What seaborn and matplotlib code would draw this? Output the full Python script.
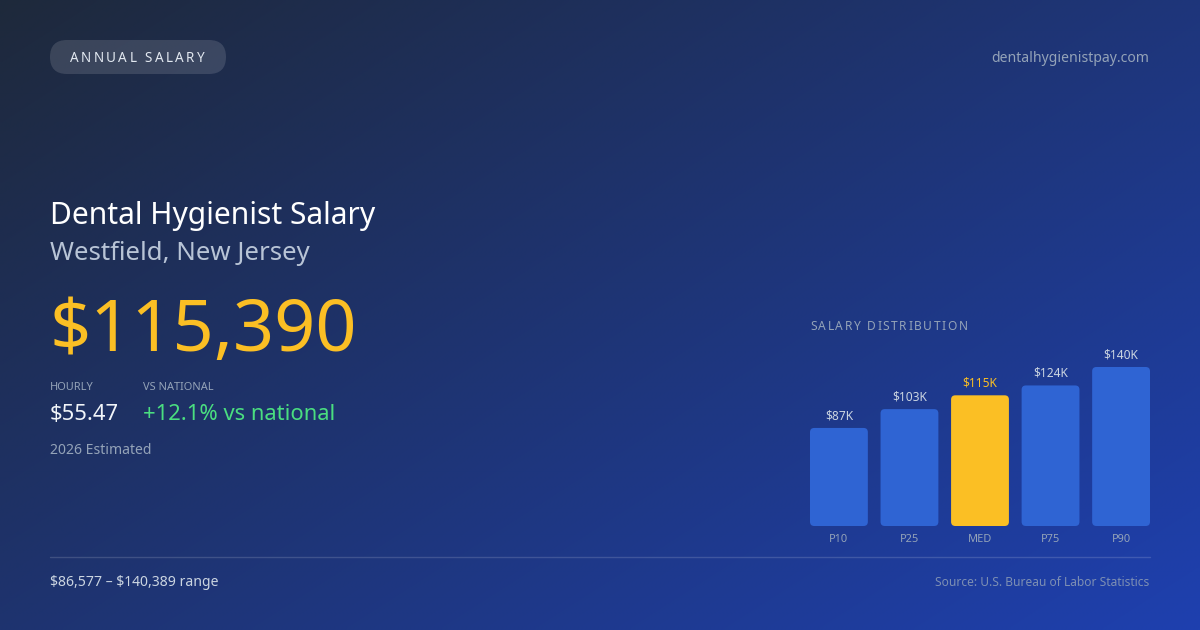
import numpy as np
import matplotlib
matplotlib.use("Agg")
import matplotlib.pyplot as plt
import seaborn as sns
from matplotlib.patches import FancyBboxPatch

# Daten
percentiles = ["P10", "P25", "MED", "P75", "P90"]
salaries = [86577, 103200, 115390, 124100, 140389]
bar_labels = ["$87K", "$103K", "$115K", "$124K", "$140K"]
bar_colors = ["#2f64d3", "#2f64d3", "#fbbf24", "#2f64d3", "#2f64d3"]
label_colors = ["#cbd5e1", "#cbd5e1", "#fbbf24", "#cbd5e1", "#cbd5e1"]

title = "Dental Hygienist Salary"
location = "Westfield, New Jersey"
annual = "$115,390"
hourly = "$55.47"
vs_national = "+12.1% vs national"
range_text = "$86,577 – $140,389 range"

sns.set_theme(style="white")
plt.rcParams["font.family"] = ["Noto Sans", "DejaVu Sans"]

W, H = 1200, 630
fig = plt.figure(figsize=(12, 6.3), dpi=100)

# Hintergrund mit Farbverlauf
bg = fig.add_axes([0, 0, 1, 1])
xx, yy = np.meshgrid(np.linspace(0, 1, 300), np.linspace(0, 1, 160))
t = (xx * 1.1 + yy * 0.9) / 2.0
c0 = np.array([0x1e, 0x29, 0x3b]) / 255
c1 = np.array([0x1e, 0x40, 0xaf]) / 255
grad = c0[None, None, :] * (1 - t[..., None]) + c1[None, None, :] * t[..., None]
bg.imshow(grad, extent=(0, W, H, 0), aspect="auto", interpolation="bilinear")
bg.set_xlim(0, W)
bg.set_ylim(H, 0)
bg.axis("off")


def pt(px):
    return px * 0.72


def txt(x, y, s, px, color, ha="left"):
    bg.text(x, y, s, fontsize=pt(px), color=color, ha=ha, va="center",
            parse_math=False)


def spaced(ax, x, y, s, size, color, spacing):
    r = fig.canvas.get_renderer()
    inv = ax.transData.inverted()
    for ch in s:
        t_ = ax.text(x, y, ch, fontsize=size, color=color, va="center", ha="left")
        bb = t_.get_window_extent(renderer=r)
        x0 = inv.transform((bb.x0, bb.y0))[0]
        x1 = inv.transform((bb.x1, bb.y0))[0]
        x += (x1 - x0) + spacing


# Pill oben links
pill = FancyBboxPatch((50, 40), 176, 34, boxstyle="round,pad=0,rounding_size=17",
                      facecolor="white", alpha=0.13, edgecolor="none")
bg.add_patch(pill)
spaced(bg, 70, 58.5, "ANNUAL SALARY", pt(13.5), "#e2e8f0", 2.4)

txt(1149, 59, "dentalhygienistpay.com", 14, "#94a3b8", ha="right")

txt(50, 216, title, 30, "white")
txt(50, 253, location, 25.8, "#b8c4d6")
txt(50, 333, annual, 72, "#fbbf24")

txt(50, 388, "HOURLY", 11, "#94a3b8")
txt(143, 388, "VS NATIONAL", 11, "#94a3b8")
txt(50, 415, hourly, 22, "#f1f5f9")
txt(143, 415, vs_national, 22, "#4ade80")
txt(50, 450, "2026 Estimated", 14, "#94a3b8")

bg.plot([50, 1150], [556.5, 556.5], color="white", alpha=0.15, lw=1)
txt(50, 582, range_text, 14, "#cbd5e1")
txt(1149, 582, "Source: U.S. Bureau of Labor Statistics", 12, "#7d8fb3", ha="right")

spaced(bg, 810, 326, "SALARY DISTRIBUTION", pt(12), "#94a3b8", 1.6)

# Balkendiagramm
ax = fig.add_axes([810 / W, (H - 526) / H, 340 / W, 159 / H])
ax.patch.set_alpha(0)
sns.barplot(x=percentiles, y=salaries, hue=percentiles, palette=bar_colors,
            legend=False, width=0.82, ax=ax, saturation=1)
ax.set_xlim(-0.41, 4.41)
ax.set_ylim(0, max(salaries))

# abgerundete Ecken
aspect = (max(salaries) / 159) / (4.82 / 340)
for p, c in zip(list(ax.patches), bar_colors):
    x, y, w, h = p.get_x(), p.get_y(), p.get_width(), p.get_height()
    p.remove()
    ax.add_patch(FancyBboxPatch((x, y), w, h,
                                boxstyle="round,pad=0,rounding_size=0.06",
                                mutation_aspect=aspect, facecolor=c,
                                edgecolor="none", clip_on=False))

for i, (v, lab, lc) in enumerate(zip(salaries, bar_labels, label_colors)):
    ax.annotate(lab, (i, v), xytext=(0, pt(12)), textcoords="offset points",
                ha="center", va="center", fontsize=pt(12), color=lc,
                annotation_clip=False)

ax.set_xlabel("")
ax.set_ylabel("")
ax.set_yticks([])
ax.tick_params(axis="x", length=0, pad=pt(8.5), labelsize=pt(11), labelcolor="#94a3b8")
for s in ax.spines.values():
    s.set_visible(False)

fig.savefig("out.png", dpi=100)
